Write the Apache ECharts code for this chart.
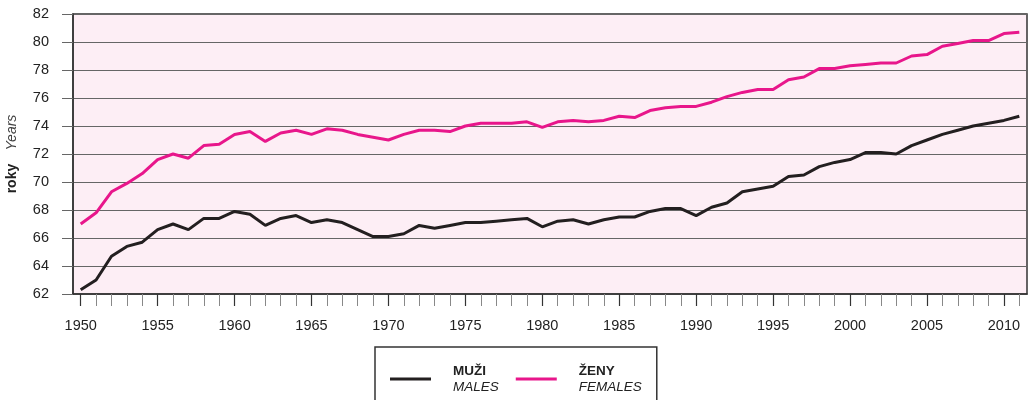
<!DOCTYPE html>
<html>
<head>
<meta charset="utf-8">
<script src="https://cdn.jsdelivr.net/npm/echarts@6/dist/echarts.min.js"></script>
<style>
  html, body { margin: 0; padding: 0; background: #fff; }
  #chart { width: 1035px; height: 400px; }
</style>
</head>
<body>
<div id="chart"></div>
<script>
// roky 1950–2011
const years = []
for (let y = 1950; y <= 2011; y++) years.push(String(y))

// střední délka života – muži
const males = [
  62.3, 63.0, 64.7, 65.4, 65.7, 66.6, 67.0, 66.6, 67.4, 67.4,
  67.9, 67.7, 66.9, 67.4, 67.6, 67.1, 67.3, 67.1, 66.6, 66.1,
  66.1, 66.3, 66.9, 66.7, 66.9, 67.1, 67.1, 67.2, 67.3, 67.4,
  66.8, 67.2, 67.3, 67.0, 67.3, 67.5, 67.5, 67.9, 68.1, 68.1,
  67.6, 68.2, 68.5, 69.3, 69.5, 69.7, 70.4, 70.5, 71.1, 71.4,
  71.6, 72.1, 72.1, 72.0, 72.6, 73.0, 73.4, 73.7, 74.0, 74.2,
  74.4, 74.7
]

// střední délka života – ženy
const females = [
  67.0, 67.8, 69.3, 69.9, 70.6, 71.6, 72.0, 71.7, 72.6, 72.7,
  73.4, 73.6, 72.9, 73.5, 73.7, 73.4, 73.8, 73.7, 73.4, 73.2,
  73.0, 73.4, 73.7, 73.7, 73.6, 74.0, 74.2, 74.2, 74.2, 74.3,
  73.9, 74.3, 74.4, 74.3, 74.4, 74.7, 74.6, 75.1, 75.3, 75.4,
  75.4, 75.7, 76.1, 76.4, 76.6, 76.6, 77.3, 77.5, 78.1, 78.1,
  78.3, 78.4, 78.5, 78.5, 79.0, 79.1, 79.7, 79.9, 80.1, 80.1,
  80.6, 80.7
]

const font = '"Liberation Sans", Arial, sans-serif'
const chart = echarts.init(document.getElementById('chart'))

const option = {
  animation: false,
  textStyle: { fontFamily: font },
  grid: {
    left: 73,
    right: 8,
    top: 14,
    bottom: 106,
    outerBoundsMode: 'none',
    containLabel: false,
    show: true,
    backgroundColor: '#fdeef5',
    borderColor: '#333',
    borderWidth: 1.5
  },
  legend: {
    left: 375,
    top: 347,
    padding: [17, 15, 40, 15],
    borderColor: '#333',
    borderWidth: 1.5,
    itemGap: 17,
    itemWidth: 41,
    itemHeight: 3,
    icon: 'rect',
    data: ['males', 'females'],
    formatter: (name) => name === 'males'
      ? '{a|MUŽI}\n{b|MALES}'
      : '{a|ŽENY}\n{b|FEMALES}',
    textStyle: {
      rich: {
        a: { fontFamily: font, fontSize: 13.5, fontWeight: 'bold', color: '#222', lineHeight: 16, padding: [0, 0, 0, 17] },
        b: { fontFamily: font, fontSize: 13.5, fontStyle: 'italic', color: '#222', lineHeight: 16, padding: [0, 0, 0, 17] }
      }
    }
  },
  xAxis: [
    {
      type: 'category',
      data: years,
      boundaryGap: true,
      axisLine: { show: false },
      axisTick: { show: true, inside: false, length: 12, alignWithLabel: true, interval: 0, lineStyle: { color: '#888', width: 1 } },
      axisLabel: { show: false },
      splitLine: { show: false }
    },
    {
      type: 'category',
      data: years,
      position: 'bottom',
      boundaryGap: true,
      axisLine: { show: true, lineStyle: { color: '#333', width: 1.5 } },
      axisTick: { show: true, length: 12, alignWithLabel: true, interval: 4, lineStyle: { color: '#333', width: 1.2 } },
      axisLabel: { interval: 4, margin: 24, fontSize: 14.5, color: '#222', fontFamily: font },
      splitLine: { show: false }
    }
  ],
  yAxis: {
    type: 'value',
    min: 62,
    max: 82,
    interval: 2,
    name: '{r|roky}    {y|Years}',
    nameLocation: 'middle',
    nameRotate: 90,
    nameGap: 54,
    nameTextStyle: {
      rich: {
        r: { fontFamily: font, fontSize: 14, fontWeight: 'bold', color: '#222' },
        y: { fontFamily: font, fontSize: 14, fontStyle: 'italic', color: '#444' }
      }
    },
    axisLine: { show: true, lineStyle: { color: '#333', width: 1.5 } },
    axisTick: { show: true, length: 11, lineStyle: { color: '#666' } },
    axisLabel: { margin: 24, fontSize: 14.5, color: '#222', fontFamily: font },
    splitLine: { show: true, lineStyle: { color: '#666', width: 1 } }
  },
  series: [
    {
      name: 'males',
      type: 'line',
      xAxisIndex: 1,
      data: males,
      symbol: 'none',
      color: '#231f20',
      lineStyle: { color: '#231f20', width: 3 }
    },
    {
      name: 'females',
      type: 'line',
      xAxisIndex: 1,
      data: females,
      symbol: 'none',
      color: '#e8168b',
      lineStyle: { color: '#e8168b', width: 3 }
    }
  ]
}

chart.setOption(option)
</script>
</body>
</html>
